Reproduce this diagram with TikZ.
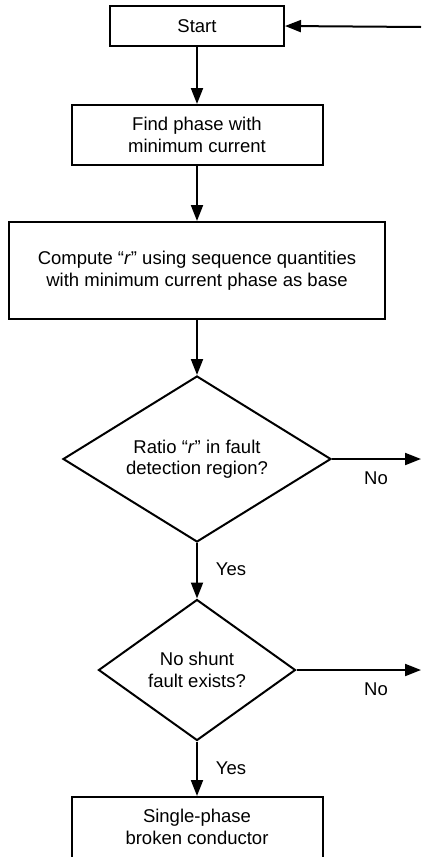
\documentclass[tikz,border=0pt]{standalone}
\usepackage{fontspec}
\setmainfont{Liberation Sans}
\usetikzlibrary{shapes.geometric,arrows.meta}
\begin{document}
\begin{tikzpicture}[x=1pt,y=-1pt,
  txt/.style={font=\fontsize{18.5}{21.5}\selectfont},
  box/.style={txt, draw, line width=2pt, rectangle, inner sep=0pt, align=center},
  decision/.style={txt, draw, line width=2pt, diamond, inner sep=0pt, align=center},
  flow/.style={line width=2pt, -{Triangle[length=16pt,width=12pt]}},
  lbl/.style={txt, inner sep=0pt}
]
\useasboundingbox (0,0) rectangle (421,857);
\clip (0,0) rectangle (421,857);

% process boxes
\node[box, minimum width=174, minimum height=40] (start) at (197,26) {Start};
\node[box, minimum width=251, minimum height=60] (find) at (197,135) {Find phase with\\minimum current};
\node[box, minimum width=376, minimum height=97] (compute) at (197,270.5) {Compute “\textit{r}” using sequence quantities\\with minimum current phase as base};

% decisions
\node[decision, aspect=1.6, minimum width=268, minimum height=166] (ratio) at (197,459) {Ratio “\textit{r}” in fault\\detection region?};
\node[decision, aspect=1.4, minimum width=197, minimum height=141] (shunt) at (197,670) {No shunt\\fault exists?};

% result (runs past the lower edge)
\node[box, minimum width=251, minimum height=64] (broken) at (197,829) {};
\node[txt, align=center] (brokentxt) at (197,827) {Single-phase\\broken conductor};

% loose ends on the right
\coordinate (loop) at (421,27);
\coordinate (noA) at (421,459);
\coordinate (noB) at (421,670);

% connectors
\draw[flow] (loop) -- (start.east);
\draw[flow] (start) -- (find);
\draw[flow] (find) -- (compute);
\draw[flow] (compute) -- (ratio);
\draw[flow] (ratio) -- (shunt);
\draw[flow] (shunt) -- (broken);
\draw[flow] (ratio.east) -- (noA);
\draw[flow] (shunt.east) -- (noB);

% branch labels
\node[lbl] (noAlbl) at (376,478) {No};
\node[lbl] (noBlbl) at (376,689) {No};
\node[lbl] (yesA) at (231,569) {Yes};
\node[lbl] (yesB) at (231,768) {Yes};
\end{tikzpicture}
\end{document}
